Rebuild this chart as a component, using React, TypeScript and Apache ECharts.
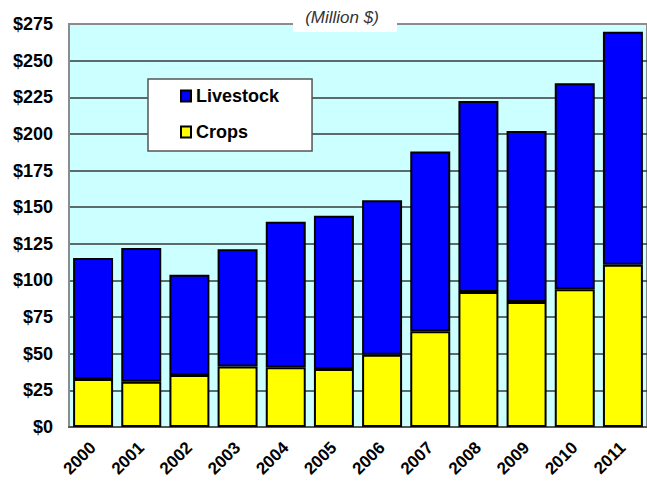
import React, { useEffect, useRef } from "react";
import * as echarts from "echarts";

const years = ["2000", "2001", "2002", "2003", "2004", "2005", "2006", "2007", "2008", "2009", "2010", "2011"];
const crops = [32.8, 30.9, 35.5, 41.2, 40.7, 39.6, 49.3, 65.3, 92.1, 85.3, 94.0, 110.7];
const livestock = [82.5, 91.2, 68.4, 80.1, 99.4, 104.6, 105.4, 122.7, 130.3, 116.7, 140.5, 159.0];
const unitLabel = "(Million $)";

export default function App() {
  const ref = useRef<HTMLDivElement>(null);
  useEffect(() => {
    if (!ref.current) return;
    const chart = echarts.init(ref.current, null, { renderer: "svg" });
    const font = "'Liberation Sans', Arial, sans-serif";
    chart.setOption({
      animation: false,
      backgroundColor: "#ffffff",
      textStyle: { fontFamily: font },
      grid: {
        left: 69,
        right: -2,
        top: 24,
        bottom: 54,
        show: true,
        backgroundColor: "#CCFFFF",
        borderColor: "#8c8c8c",
        borderWidth: 2,
      },
      legend: {
        data: ["Livestock", "Crops"],
        orient: "vertical",
        left: 148,
        top: 79,
        icon: "rect",
        backgroundColor: "#ffffff",
        borderColor: "#555555",
        borderWidth: 1.5,
        borderRadius: 0,
        padding: [8, 33, 10, 32],
        itemWidth: 10,
        itemHeight: 11,
        itemGap: 18,
        textStyle: { fontFamily: font, fontWeight: "bold", fontSize: 18, color: "#000" },
      },
      xAxis: {
        type: "category",
        data: years,
        axisLine: { show: true, lineStyle: { color: "#555555", width: 2 } },
        axisTick: { show: false },
        axisLabel: {
          rotate: 45,
          margin: 18,
          fontFamily: font,
          fontWeight: "bold",
          fontSize: 17,
          color: "#000",
        },
      },
      yAxis: {
        type: "value",
        min: 0,
        max: 275,
        interval: 25,
        axisLine: { show: true, lineStyle: { color: "#8c8c8c", width: 2 } },
        axisTick: { show: false },
        axisLabel: {
          margin: 16,
          fontFamily: font,
          fontWeight: "bold",
          fontSize: 18,
          color: "#000",
          formatter: (v: number) => "$" + v,
        },
        splitLine: {
          show: true,
          showMaxLine: false,
          lineStyle: { color: "#3a3a3a", width: 1.5 },
        },
      },
      series: [
        {
          name: "Crops",
          type: "bar",
          stack: "total",
          data: crops,
          barCategoryGap: "17%",
          itemStyle: { color: "#FFFF00", borderColor: "#000000", borderWidth: 2 },
        },
        {
          name: "Livestock",
          type: "bar",
          stack: "total",
          data: livestock,
          barCategoryGap: "17%",
          itemStyle: { color: "#0000FF", borderColor: "#000000", borderWidth: 2 },
        },
      ],
      graphic: [
        {
          type: "rect",
          z: 100,
          shape: { x: 293, y: 0, width: 104, height: 32 },
          style: { fill: "#ffffff" },
        },
        {
          type: "text",
          z: 101,
          x: 342,
          y: 17,
          style: {
            text: unitLabel,
            fill: "#333333",
            font: "italic 17px 'Liberation Sans', Arial, sans-serif",
            textAlign: "center",
            textVerticalAlign: "middle",
          },
        },
      ],
    });
    return () => chart.dispose();
  }, []);
  return (
    <div
      ref={ref}
      style={{ position: "fixed", left: 0, top: 0, width: 647, height: 481 }}
    />
  );
}
